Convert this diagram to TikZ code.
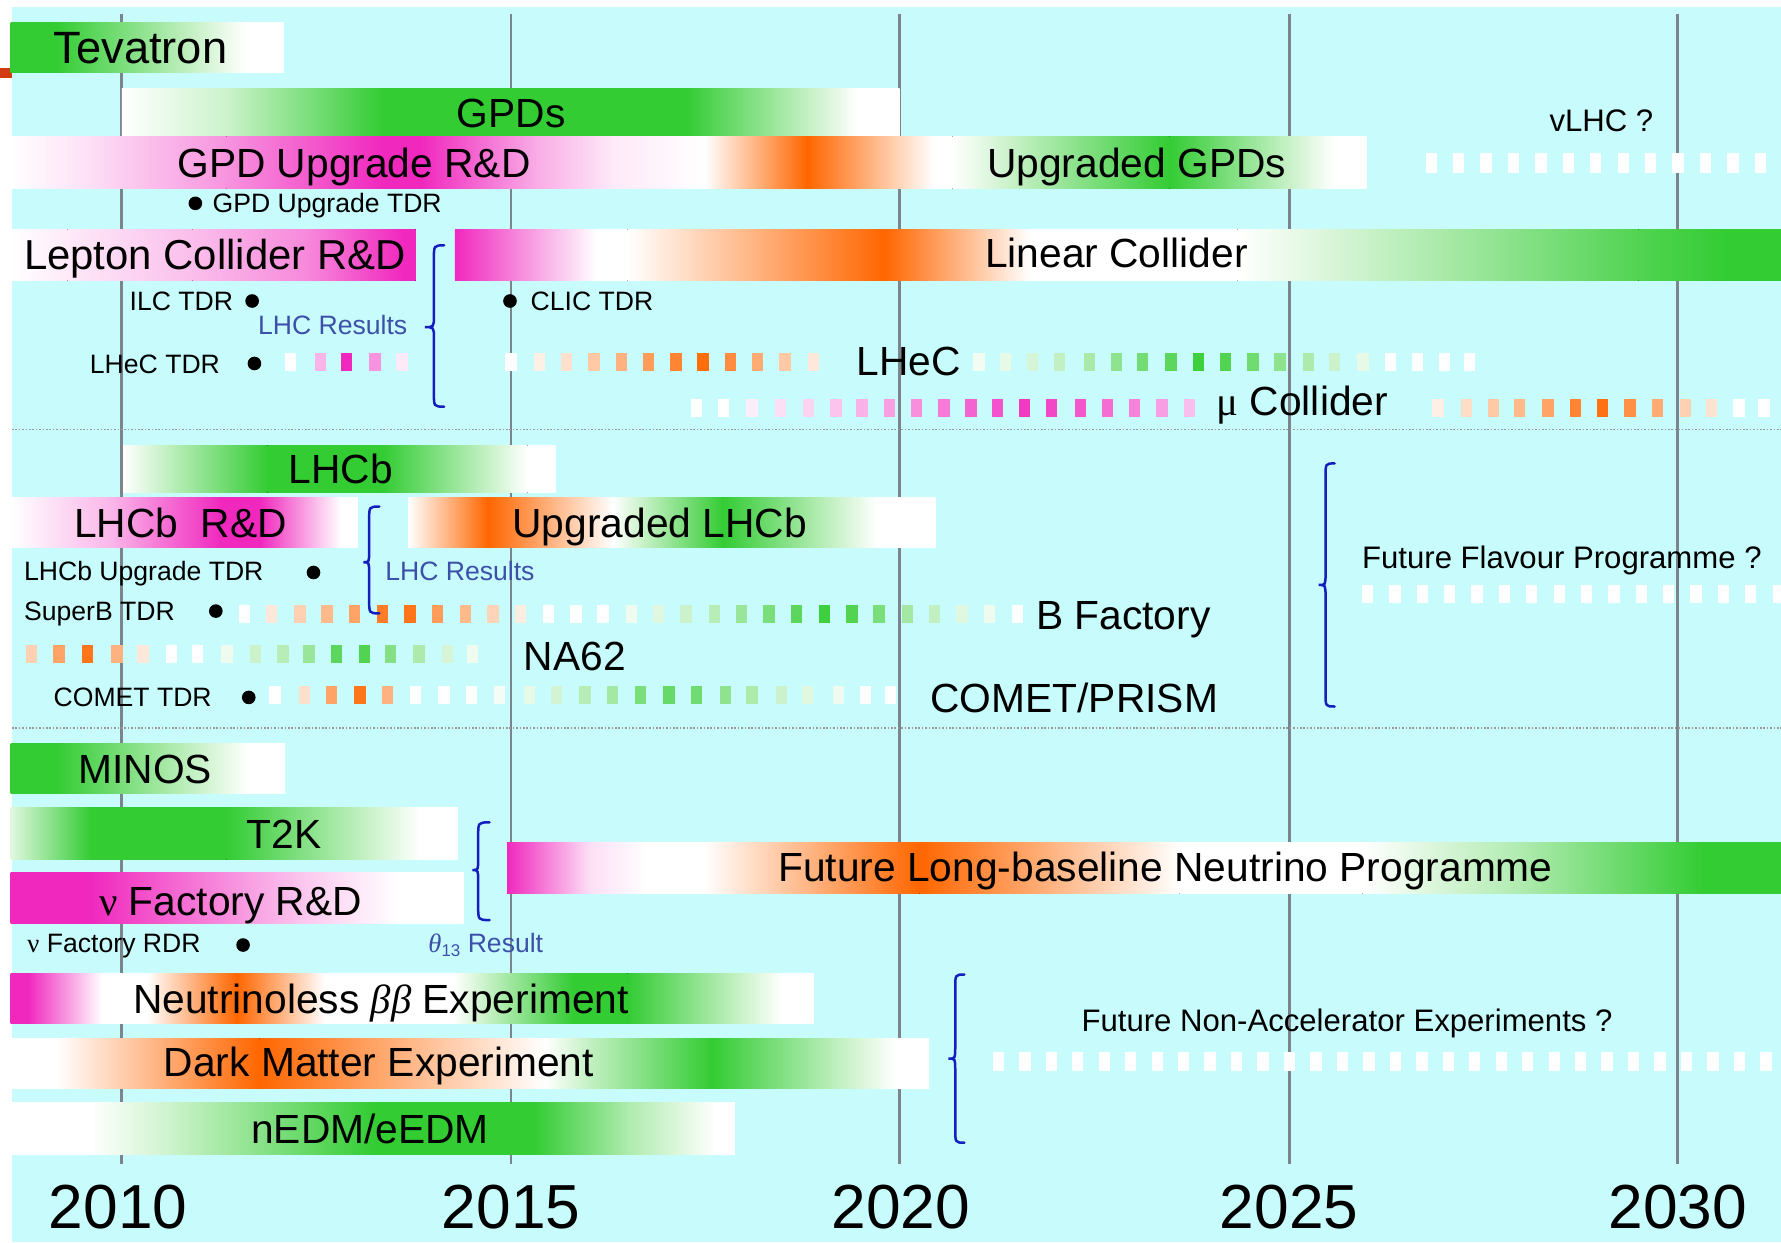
\documentclass[tikz,border=0pt]{standalone}
\usepackage{fontspec}
\setmainfont{Liberation Sans}
\newfontfamily\grk{Liberation Serif}
\definecolor{bgc}{RGB}{200,252,252}
\definecolor{gr}{RGB}{51,204,51}
\definecolor{orn}{RGB}{255,102,0}
\definecolor{mag}{RGB}{240,40,190}
\definecolor{gridc}{RGB}{125,133,140}
\definecolor{brc}{RGB}{20,30,190}
\definecolor{bluetxt}{RGB}{60,80,170}
\definecolor{tickc}{RGB}{210,60,20}
\newcommand\gbar[3]{%
  \foreach \xx/\cc [count=\ii, remember=\xx as \px (initially 0), remember=\cc as \pc (initially white)] in {#3} {%
    \ifnum\ii>1
      \fill[left color=\pc, right color=\cc] (\px-0.6,#1) rectangle (\xx,#2);
    \fi
  }%
}
\newcommand\sqrow[2]{%
  \foreach \xx/\cc in {#2} {\fill[\cc] (\xx-5,#1-8) rectangle (\xx+5,#1+8);}%
}
\newcommand\curly[6]{%
  \draw[bracel] (#3,#4) .. controls (#2,#4) .. (#2,#4+12) -- (#2,#5-10)
    .. controls (#2,#5) .. (#1,#5) .. controls (#2,#5) .. (#2,#5+10)
    -- (#2,#6-12) .. controls (#2,#6) .. (#3,#6);%
}
\begin{document}
\begin{tikzpicture}[x=1bp,y=-1bp,
  gridl/.style={gridc, line width=2.4bp},
  sepl/.style={gray!80, line width=1.3bp, dash pattern=on 1.4bp off 1.6bp},
  bracel/.style={brc, line width=2.2bp, line cap=round},
  lab/.style={inner sep=0pt, anchor=west, text depth=0pt},
  big/.style={lab, font=\fontsize{36}{36}\selectfont, text height=25.8bp},
  tev/.style={lab, font=\fontsize{40}{40}\selectfont, text height=28.6bp},
  mid/.style={lab, font=\fontsize{27.5}{27.5}\selectfont, text height=19.7bp},
  small/.style={lab, font=\fontsize{23.5}{23.5}\selectfont, text height=16.8bp},
  bsmall/.style={small, text=bluetxt},
  year/.style={inner sep=0pt, anchor=center, text depth=0pt, font=\fontsize{55}{55}\selectfont, text height=39.4bp},
  dotn/.style={circle, fill=black, inner sep=0pt, minimum size=12bp}]
\useasboundingbox (0,0) rectangle (1568,1093.5);
\clip (0,0) rectangle (1568,1093.5);
\fill[white] (0,0) rectangle (1568,1093.5);
\fill[bgc] (10.5,6) rectangle (1568,1093.5);
\fill[tickc] (0,60) rectangle (10.5,69);
% grid
\foreach \gx in {107,450,792,1135,1477} \draw[gridl] (\gx,12) -- (\gx,1025);
\draw[sepl] (10.5,378) -- (1568,378);
\draw[sepl] (10.5,641) -- (1568,641);
% bars
\gbar{20}{64}{10/gr, 50/gr, 216/white, 250/white}
\gbar{78}{120}{108/white, 200/gr!25, 337/gr, 604/gr, 755/white, 792/white}
\gbar{120}{166}{10/white, 80/mag!15, 200/mag!50, 337/mag, 371/mag, 470/mag!40, 540/mag!10, 621/white, 711/orn, 822/white, 839/white, 1030/gr, 1174/white, 1203/white}
\gbar{202}{247}{10/white, 60/mag!10, 170/mag!30, 270/mag!55, 355/mag, 366/mag}
\gbar{202}{247}{401/mag, 525/white, 553/white, 779/orn, 907/white, 1090/white, 1241/gr!35, 1443/gr!85, 1520/gr, 1569/gr}
\gbar{392}{434}{109/white, 236/gr, 337/gr, 465/white, 489/white}
\gbar{438}{482}{10/white, 100/mag!35, 195/mag, 229/mag, 300/white, 315/white}
\gbar{438}{482}{360/white, 430/orn, 540/white, 637/gr, 772/white, 824/white}
\gbar{655}{699}{10/gr, 50/gr, 219/white, 251/white}
\gbar{711}{757}{10/gr!15, 80/gr, 200/gr, 370/white, 403/white}
\gbar{768}{813}{10/mag, 80/mag, 270/mag!25, 350/white, 408/white}
\gbar{742}{787}{447/mag, 519/mag!15, 570/white, 620/white, 810/orn, 1039/white, 1200/white, 1342/gr!40, 1500/gr, 1569/gr}
\gbar{857}{901}{10/mag, 25/mag, 90/white, 130/white, 209/orn, 286/white, 400/white, 505/gr, 553/gr, 688/white, 716/white}
\gbar{914}{958}{10/white, 50/white, 229/orn, 480/white, 520/gr!30, 627/gr, 739/gr!30, 789/white, 818/white}
\gbar{971}{1016}{10/white, 80/white, 151/gr!25, 330/gr, 470/gr, 553/gr!40, 630/white, 647/white}
% dashed rows
\sqrow{319}{256/white, 282/mag!35, 305/mag, 330/mag!50, 354/mag!10}
\sqrow{319}{450/white, 475/orn!10, 499/orn!20, 523/orn!35, 547/orn!50, 571/orn!65, 595/orn!80, 619/orn!95, 643/orn!75, 667/orn!55, 691/orn!35, 716/orn!15}
\sqrow{319}{862/gr!6, 885/gr!12, 909/gr!20, 933/gr!30, 959/gr!42, 983/gr!55, 1006/gr!68, 1031/gr!80, 1055/gr!95, 1079/gr!85, 1103/gr!70, 1127/gr!55, 1152/gr!40, 1175/gr!25, 1200/gr!12, 1224/white, 1248/white, 1272/white, 1294/white}
\sqrow{359}{613/white, 637/white, 662/mag!8, 687/mag!15, 712/mag!20, 736/mag!28, 759/mag!36, 783/mag!44, 807/mag!52, 831/mag!62, 855/mag!72, 878/mag!80, 902/mag!92, 926/mag!85, 951/mag!78, 975/mag!68, 999/mag!58, 1023/mag!45, 1047/mag!30}
\sqrow{359}{1266/orn!10, 1291/orn!22, 1315/orn!35, 1338/orn!45, 1363/orn!60, 1387/orn!80, 1411/orn!92, 1435/orn!72, 1459/orn!55, 1484/orn!30, 1507/orn!18, 1531/white, 1553/white, 1577/white}
\sqrow{540.5}{215/white, 239/orn!15, 264/orn!30, 288/orn!45, 312/orn!60, 337/orn!85, 361/orn!90, 385/orn!65, 410/orn!45, 434/orn!28, 458/orn!12, 483/white, 507/white, 531/white, 556/gr!8, 580/gr!15, 604/gr!25, 629/gr!35, 653/gr!50, 677/gr!65, 701/gr!80, 726/gr!95, 750/gr!85, 774/gr!65, 799/gr!45, 823/gr!30, 847/gr!15, 871/gr!8, 896/white}
\sqrow{576}{28/orn!30, 52/orn!60, 77/orn!90, 103/orn!50, 126/orn!15, 151/white, 174/white, 200/gr!8, 225/gr!25, 249/gr!35, 272/gr!50, 296/gr!80, 321/gr!85, 344/gr!60, 369/gr!40, 394/gr!20, 416/gr!8}
\sqrow{612}{242/white, 268/orn!20, 292/orn!60, 317/orn!90, 341/orn!50, 366/white, 391/white, 415/white, 440/gr!5, 466/gr!12, 490/gr!22, 515/gr!35, 539/gr!45, 564/gr!65, 589/gr!75, 613/gr!70, 639/gr!55, 662/gr!40, 688/gr!25, 711/gr!15, 738/gr!8, 762/white, 784/white}
\foreach \k in {0,...,13} \fill[white] (1260+24.15*\k-5,135) rectangle ++(10,17);
\foreach \k in {0,...,15} \fill[white] (1204+24.1*\k-5,515) rectangle ++(10,16);
\foreach \k in {0,...,29} \fill[white] (879+23.3*\k-5,926) rectangle ++(10,17);
% braces
\curly{374}{382}{391}{216}{288}{358}
\curly{320}{325}{334}{446}{495}{540}
\curly{1161}{1167}{1175}{408}{515}{622}
\curly{416}{421}{431}{724}{766}{810}
\curly{835}{841}{849}{858}{932}{1006}
% labels
\node[tev] (tevatron) at (47,42) {Tevatron};
\node[big] (gpds) at (402,99) {GPDs};
\node[big] (gpdrd) at (156,143) {GPD Upgrade R\&D};
\node[big] (upgpds) at (869,143) {Upgraded GPDs};
\node[big, font=\fontsize{37}{37}\selectfont, text height=26.5bp] (lcrd) at (21,224) {Lepton Collider R\&D};
\node[big] (linc) at (867,223) {Linear Collider};
\node[big] (lhec) at (754,318) {LHeC};
\node[big] (mucol) at (1071,353) {{\grk μ} Collider};
\node[big] (lhcb) at (254,413) {LHCb};
\node[big] (lhcbrd) at (65,460) {LHCb\ \ R\&D};
\node[big] (uplhcb) at (451,460) {Upgraded LHCb};
\node[big] (bfac) at (912,541) {B Factory};
\node[big] (na62) at (461,577) {NA62};
\node[big] (comet) at (819,614) {COMET/PRISM};
\node[big] (minos) at (69,677) {MINOS};
\node[big] (t2k) at (217,734) {T2K};
\node[big] (nufrd) at (87,793) {{\grk ν} Factory R\&D};
\node[big] (flb) at (685,763) {Future Long-baseline Neutrino Programme};
\node[big] (nbb) at (117,879) {Neutrinoless {\grk\itshape ββ} Experiment};
\node[big] (dme) at (144,935) {Dark Matter Experiment};
\node[big] (nedm) at (221,994) {nEDM/eEDM};
\node[mid] (vlhc) at (1364,106) {vLHC ?};
\node[mid] (ffp) at (1199,491) {Future Flavour Programme ?};
\node[mid] (fnae) at (952,898) {Future Non-Accelerator Experiments ?};
\node[small] (gpdtdr) at (187,179) {GPD Upgrade TDR};
\node[small] (ilc) at (114,265) {ILC TDR};
\node[bsmall] (lhcr1) at (227,286) {LHC Results};
\node[small] (clic) at (467,265) {CLIC TDR};
\node[small] (lhectdr) at (79,320) {LHeC TDR};
\node[small] (lhcbtdr) at (21,503) {LHCb Upgrade TDR};
\node[bsmall] (lhcr2) at (339,503) {LHC Results};
\node[small] (superb) at (21,538) {SuperB TDR};
\node[small] (comettdr) at (47,614) {COMET TDR};
\node[small] (nufrdr) at (24,830) {{\grk ν} Factory RDR};
\node[bsmall] (theta) at (377,830) {{\grk\itshape θ}\raisebox{-4bp}{\fontsize{15}{15}\selectfont 13} Result};
% dots
\node[dotn] (d1) at (172,179) {};
\node[dotn] (d2) at (222,265) {};
\node[dotn] (d3) at (449,265) {};
\node[dotn] (d4) at (224,320) {};
\node[dotn] (d5) at (276,504) {};
\node[dotn] (d6) at (190,538) {};
\node[dotn] (d7) at (219,614) {};
\node[dotn] (d8) at (214,832) {};
% years
\node[year] (y2010) at (104,1062) {2010};
\node[year] (y2015) at (450,1062) {2015};
\node[year] (y2020) at (793,1062) {2020};
\node[year] (y2025) at (1135,1062) {2025};
\node[year] (y2030) at (1477,1062) {2030};
\end{tikzpicture}
\end{document}
